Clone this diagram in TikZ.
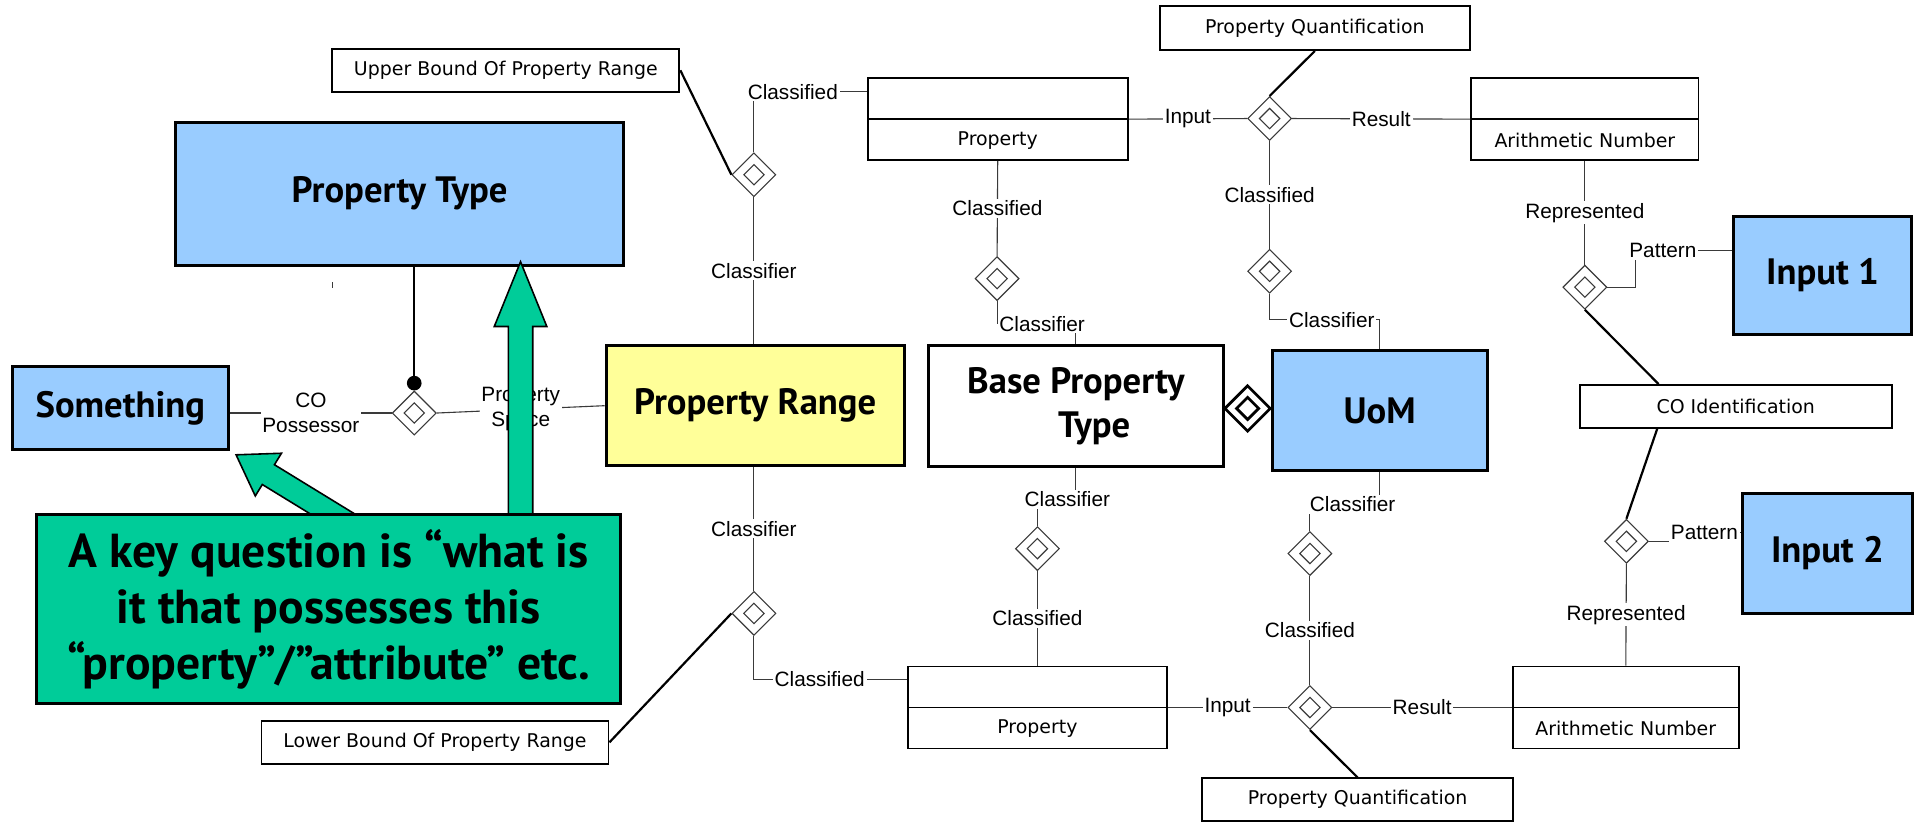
\documentclass[tikz,border=0pt]{standalone}
\usepackage{fontspec}
\setmainfont{Liberation Sans}
\newfontfamily\boxfont{DejaVu Sans}
\newfontfamily\headfont{PT Sans}
\usetikzlibrary{shapes.geometric,calc}
\definecolor{SkyBlue}{HTML}{99CCFF}
\definecolor{PaleYellow}{HTML}{FFFF99}
\definecolor{Mint}{HTML}{00CC99}
\definecolor{Wire}{HTML}{3A3A3A}
\pgfdeclarelayer{front}
\pgfsetlayers{main,front}
\tikzset{
  thing/.style={draw=black,line width=2.4pt,align=center,font=\headfont\bfseries\fontsize{30}{36}\selectfont},
  kind/.style={thing,fill=SkyBlue},
  rangebox/.style={thing,fill=PaleYellow},
  plain/.style={draw=black,line width=1.5pt,fill=white,font=\boxfont\fontsize{15.5}{18}\selectfont},
  classbox/.style={draw=black,line width=1.5pt,fill=white,minimum height=67pt,
    path picture={\draw[line width=1.5pt] (path picture bounding box.west) -- (path picture bounding box.east);}},
  boxtext/.style={font=\boxfont\fontsize{15.5}{18}\selectfont},
  rel/.style={diamond,draw=Wire,fill=white,line width=0.9pt,minimum width=36pt,minimum height=36pt,inner sep=0pt,
    label={[diamond,draw=Wire,line width=0.9pt,minimum width=17pt,minimum height=17pt,inner sep=0pt]center:{}}},
  heavyrel/.style={diamond,draw=black,fill=white,line width=2.2pt,minimum width=38pt,minimum height=38pt,inner sep=0pt,
    label={[diamond,draw=black,line width=2.2pt,minimum width=19pt,minimum height=19pt,inner sep=0pt]center:{}}},
  wire/.style={draw=Wire,line width=0.9pt},
  bond/.style={draw=black,line width=1.8pt},
  role/.style={fill=white,inner sep=1.5pt,align=center,font=\fontsize{17}{20.5}\selectfont},
  callout/.style={draw=black,line width=2.6pt,fill=Mint,align=center,font=\headfont\bfseries\fontsize{39}{46}\selectfont},
  fat/.style={draw=black,line width=1.3pt,fill=Mint}
}
% tail, tip, half shaft, half head, head length
\newcommand{\fatarrow}[5]{%
  \coordinate (fa-h) at ($(#2)!#5!(#1)$);
  \filldraw[fat] ($(#1)!#3!90:(#2)$) -- ($(fa-h)!#3!90:(#2)$) -- ($(fa-h)!#4!90:(#2)$) -- (#2)
    -- ($(fa-h)!#4!-90:(#2)$) -- ($(fa-h)!#3!-90:(#2)$) -- ($(#1)!#3!-90:(#2)$) -- cycle;}

\begin{document}
\begin{tikzpicture}[x=1pt,y=-1pt]
  \useasboundingbox (0,0) rectangle (1568,673);
  % main things
  \node[kind,minimum width=366pt,minimum height=117pt] (ptype) at (327,158.5) {Property Type};
  \node[kind,minimum width=177pt,minimum height=68pt] (something) at (98.5,334) {Something};
  \node[rangebox,minimum width=244pt,minimum height=98pt] (prange) at (618,332) {Property Range};
  \node[thing,fill=white,minimum width=241pt,minimum height=99pt] (bpt) at (880.5,332.5) {Base Property\\\hspace*{30pt}Type};
  \node[kind,minimum width=176pt,minimum height=98pt] (uom) at (1129,336) {UoM};
  \node[kind,minimum width=145pt,minimum height=97pt] (inone) at (1491.5,225.5) {Input 1};
  \node[kind,minimum width=139pt,minimum height=98pt] (intwo) at (1495.5,453) {Input 2};
  % plain boxes
  \node[plain,minimum width=284pt,minimum height=35pt] (upper) at (414,57.5) {Upper Bound Of Property Range};
  \node[plain,minimum width=284pt,minimum height=35pt] (lower) at (356,607.5) {Lower Bound Of Property Range};
  \node[plain,minimum width=254pt,minimum height=36pt] (quanttop) at (1076,23) {Property Quantification};
  \node[plain,minimum width=254pt,minimum height=35pt] (quantbot) at (1111,654.5) {Property Quantification};
  \node[plain,minimum width=255pt,minimum height=35pt] (coid) at (1420.5,332.5) {CO Identification};
  \node[classbox,minimum width=213pt] (proptop) at (816.5,97.5) {};
  \node[boxtext] (proptopname) at ($(proptop.center)!.5!(proptop.south)$) {Property};
  \node[classbox,minimum width=186pt] (antop) at (1297,97.5) {};
  \node[boxtext] (antopname) at ($(antop.center)!.5!(antop.south)$) {Arithmetic Number};
  \node[classbox,minimum width=212pt] (propbot) at (849,579) {};
  \node[boxtext] (propbotname) at ($(propbot.center)!.5!(propbot.south)$) {Property};
  \node[classbox,minimum width=185pt] (anbot) at (1330.5,579) {};
  \node[boxtext] (anbotname) at ($(anbot.center)!.5!(anbot.south)$) {Arithmetic Number};
  % relations
  \node[rel] (dposs) at (339,338) {};
  \node[rel] (dupper) at (617,143) {};
  \node[rel] (dproptop) at (816,228) {};
  \node[rel] (dquanttop) at (1039,97) {};
  \node[rel] (dclasstop) at (1039,222) {};
  \node[rel] (drepone) at (1297,235) {};
  \node[rel] (dreptwo) at (1331,443) {};
  \node[rel] (dlower) at (617,502) {};
  \node[rel] (dpropbot) at (849,449) {};
  \node[rel] (dclassbot) at (1072,453) {};
  \node[rel] (dquantbot) at (1072,579) {};
  \node[heavyrel] (duom) at ($(bpt.east)!.5!(uom.west)$) {};
  % possessor
  \draw[wire] (something.east |- dposs.west) -- node[role]{CO\\Possessor} (dposs.west);
  \draw[wire] (dposs.east) -- node[role]{Property\\Space} (prange.west);
  \draw[bond] (dposs.north |- ptype.south) -- (dposs.north);
  \fill ($(dposs.north)+(0,-6)$) circle[radius=6pt];
  \draw[wire] (272,231) -- (272,236);
  % upper part
  \draw[bond] (upper.east) -- (dupper.west);
  \draw[wire] (dupper.north) |- node[role,pos=.5,anchor=west,xshift=-7pt]{Classified} ([yshift=22.5pt]proptop.west);
  \draw[wire] (dupper.south) -- node[role]{Classifier} (dupper.south |- prange.north);
  \draw[wire] (proptop.south) -- node[role]{Classified} (dproptop.north);
  \draw[wire] (dproptop.south) |- node[role,pos=.5,anchor=west]{Classifier} ([yshift=17pt]bpt.north) -- (bpt.north);
  \draw[wire] (proptop.east) -- node[role]{Input} (dquanttop.west);
  \draw[wire] (dquanttop.east) -- node[role]{Result} (antop.west);
  \draw[bond] (dquanttop.north) -- (quanttop.south);
  \draw[wire] (dquanttop.south) -- node[role]{Classified} (dclasstop.north);
  \draw[wire] (dclasstop.south) |- node[role,pos=.5,anchor=west,xshift=14pt]{Classifier} ([yshift=24pt]uom.north) -- (uom.north);
  % identification
  \draw[wire] (antop.south) -- node[role]{Represented} (drepone.north);
  \coordinate (patone) at ([xshift=23pt,yshift=30pt]drepone.east);
  \draw[wire] (drepone.east) -| (patone) -- node[role,pos=0,anchor=west,xshift=-7pt]{Pattern} (patone -| inone.west);
  \draw[bond] (drepone.south) -- ([xshift=65pt]coid.north west);
  \draw[bond] ([xshift=64pt]coid.south west) -- (dreptwo.north);
  \coordinate (pattwo) at ([xshift=19pt,yshift=7pt]dreptwo.east);
  \draw[wire] (dreptwo.east) -| (pattwo) -- node[role,pos=0,anchor=west,xshift=-3pt]{Pattern} (pattwo -| intwo.west);
  \draw[wire] (dreptwo.south) -- node[role]{Represented} (anbot.north);
  % lower part
  \draw[wire] (prange.south -| dlower.north) -- node[role]{Classifier} (dlower.north);
  \draw[bond] (lower.east) -- (dlower.west);
  \draw[wire] (dlower.south) |- node[role,pos=.5,anchor=west,xshift=15pt]{Classified} ([yshift=23pt]propbot.west);
  \draw[wire] (bpt.south) |- node[role,pos=.5,xshift=-7pt]{Classifier} ([yshift=22pt]dpropbot.north) -- (dpropbot.north);
  \draw[wire] (dpropbot.south) -- node[role]{Classified} (propbot.north);
  \draw[wire] (uom.south) |- node[role,pos=.5,xshift=-22pt]{Classifier} ([yshift=22pt]dclassbot.north) -- (dclassbot.north);
  \draw[wire] (dclassbot.south) -- node[role]{Classified} (dquantbot.north);
  \draw[wire] (propbot.east) -- node[role]{Input} (dquantbot.west);
  \draw[wire] (dquantbot.east) -- node[role]{Result} (anbot.west);
  \draw[bond] (dquantbot.south) -- (quantbot.north);
  % the question
  \begin{pgfonlayer}{front}
    \node[callout,minimum width=478pt,minimum height=155pt] (callout) at (269,498.5)
      {A key question is “what is\\it that possesses this\\“property”/”attribute” etc.};
  \end{pgfonlayer}
  \coordinate (uptail) at ([xshift=157pt,yshift=-10pt]callout.north);
  \coordinate (uptip) at ([xshift=99pt,yshift=4pt]ptype.south);
  \coordinate (lefttail) at ([xshift=18pt,yshift=-10pt]callout.north);
  \coordinate (lefttip) at ([xshift=5pt,yshift=-3pt]something.south east);
  \fatarrow{uptail}{uptip}{10pt}{21.5pt}{53pt}
  \fatarrow{lefttail}{lefttip}{9.5pt}{20.5pt}{31pt}
\end{tikzpicture}
\end{document}
